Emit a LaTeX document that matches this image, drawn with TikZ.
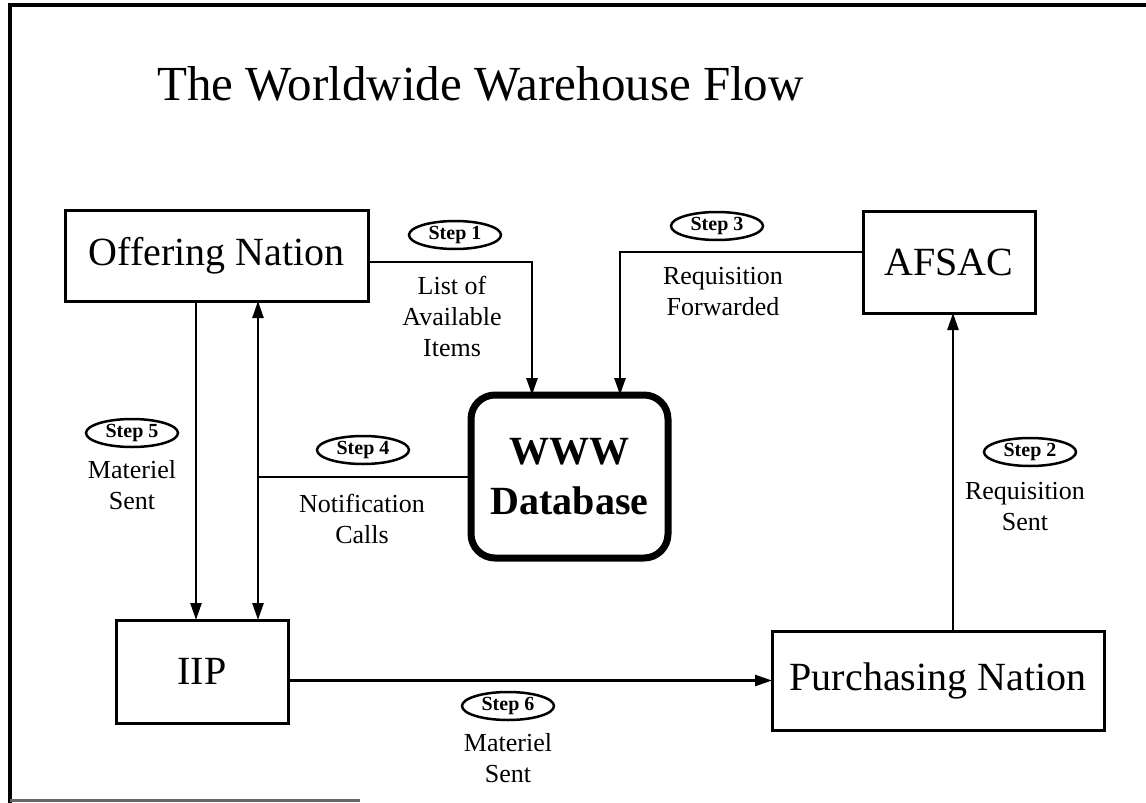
\documentclass[tikz,border=0pt]{standalone}
\usepackage{fontspec}
\setmainfont{Liberation Serif}
\usetikzlibrary{arrows.meta,shapes.geometric}
\tikzset{
  box/.style={draw, line width=3pt, rectangle, outer sep=0pt, inner sep=0pt, font=\fontsize{40}{48}\selectfont},
  dbbox/.style={draw, line width=7pt, rounded corners=24pt, outer sep=0pt, inner sep=0pt, align=center, font=\fontsize{40}{50}\selectfont\bfseries},
  conn/.style={line width=2.5pt},
  arr/.style={conn, -{Triangle[length=17pt,width=11pt]}},
  darr/.style={conn, {Triangle[length=17pt,width=11pt]}-{Triangle[length=17pt,width=11pt]}},
  stepel/.style={draw, ellipse, line width=2.5pt, minimum width=92pt, minimum height=28pt, inner sep=0pt, font=\fontsize{20}{22}\selectfont\bfseries},
  lbl/.style={align=center, font=\fontsize{26}{31}\selectfont},
  frameline/.style={line width=4pt}
}
\begin{document}
\begin{tikzpicture}[x=1pt,y=-1pt]
\useasboundingbox (0,0) rectangle (1146,803);
% frame
\draw[frameline] (10,803) -- (10,5) -- (1146,5);
\draw[line width=3pt, black!60] (10,800) -- (360,800);
% title
\node[anchor=base west, inner sep=0pt, font=\fontsize{49}{60}\selectfont] (title) at (157,100) {The Worldwide Warehouse Flow};
% boxes
\node[box, minimum width=303pt, minimum height=91pt] (off) at (216.5,255.5) {Offering Nation};
\node[box, minimum width=172pt, minimum height=102pt] (afsac) at (949,262) {AFSAC};
\node[dbbox, minimum width=197pt, minimum height=163pt] (db) at (569.5,476.5) {WWW\\Database};
\node[box, minimum width=172pt, minimum height=103pt] (iip) at (202,671.5) {IIP};
\node[box, minimum width=332pt, minimum height=99pt] (pn) at (938,680.5) {Purchasing Nation};
% junction for step 4
\coordinate (j4) at (258,477);
% connectors
\draw[arr] ([yshift=-6.5pt]off.east) -| ([xshift=-37.5pt]db.north);
\draw[arr] ([yshift=10pt]afsac.west) -| ([xshift=50.5pt]db.north);
\draw[arr] ([xshift=4pt]afsac.south |- pn.north) -- ([xshift=4pt]afsac.south);
\draw[conn] (db.west |- j4) -- (j4);
\draw[darr] ([xshift=41.5pt]off.south) -- ([xshift=41.5pt]off.south |- iip.north);
\draw[arr] ([xshift=-20.5pt]off.south) -- ([xshift=-20.5pt]off.south |- iip.north);
\draw[arr] (iip.east |- pn.west) -- (pn.west);
% step ellipses
\node[stepel] (s1) at (455,235) {Step 1};
\node[stepel] (s2) at (1030,452) {Step 2};
\node[stepel] (s3) at (717,226) {Step 3};
\node[stepel] (s4) at (363,450) {Step 4};
\node[stepel] (s5) at (132,433) {Step 5};
\node[stepel] (s6) at (508,706) {Step 6};
% labels
\node[lbl] (l1) at (452,316) {List of\\Available\\Items};
\node[lbl] (l2) at (1025,507) {Requisition\\Sent};
\node[lbl] (l3) at (723,292) {Requisition\\Forwarded};
\node[lbl] (l4) at (362,519) {Notification\\Calls};
\node[lbl] (l5) at (132,485) {Materiel\\Sent};
\node[lbl] (l6) at (508,758) {Materiel\\Sent};
\end{tikzpicture}
\end{document}
